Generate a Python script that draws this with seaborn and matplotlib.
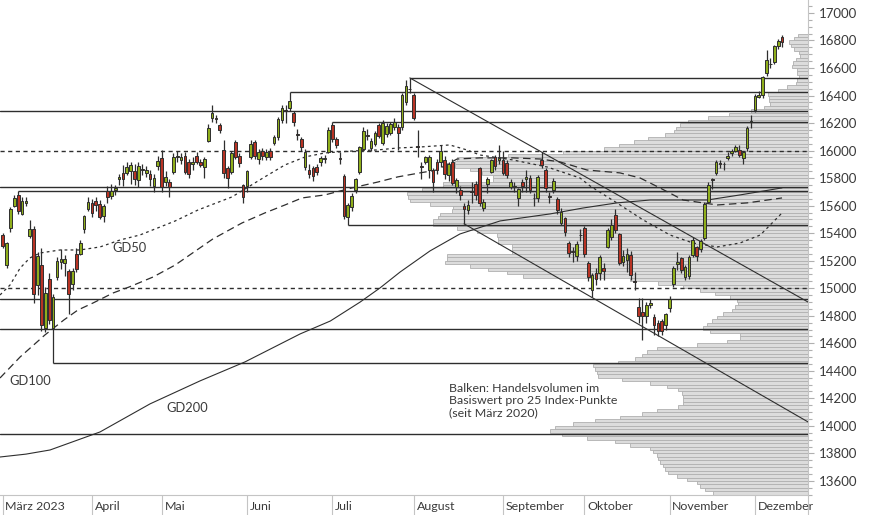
import numpy as np
import pandas as pd
import matplotlib
matplotlib.use("Agg")
import matplotlib.pyplot as plt
import matplotlib.transforms as mtransforms
from matplotlib.lines import Line2D
from matplotlib.ticker import MultipleLocator
import seaborn as sns

sns.set_theme(style="white")
plt.rcParams["font.family"] = ["Lato", "DejaVu Sans"]

# Handelstage 1. März - 12. Dezember 2023 (ohne Karfreitag, Ostermontag, 1. Mai)
tage = pd.bdate_range("2023-03-01", "2023-12-12")
tage = tage[~tage.isin(pd.to_datetime(["2023-04-07", "2023-04-10", "2023-05-01"]))]
monate = ["März 2023", "April", "Mai", "Juni", "Juli", "August",
          "September", "Oktober", "November", "Dezember"]

# Tageskerzen
eroeffnung = [
    # März
    15387, 15170, 15440, 15600, 15680, 15540, 15620, 15380, 15431, 15020, 15170, 14712,
    15067, 14710, 15080, 15190, 15180, 15126, 15030, 15250, 15250, 15430, 15576,
    # April
    15620, 15635, 15615, 15525, 15709, 15670, 15715, 15794, 15838, 15838, 15852, 15852,
    15787, 15860, 15840, 15830, 15743, 15890,
    # Mai
    15947, 15772, 15772, 15845, 15955, 15935, 15960, 15918, 15905, 15961, 15915, 15880,
    16070, 16237, 16240, 16186, 16005, 15874, 15845, 16063, 15961, 15750,
    # Juni
    15743, 15954, 16060, 15937, 15997, 15955, 15995, 16056, 16100, 16225, 16295, 16310,
    16274, 16120, 16085, 15880, 15860, 15870, 15880, 15918, 15940, 15990,
    # Juli
    16186, 16085, 15945, 15816, 15518, 15590, 15714, 15845, 16012, 16115, 16020, 16050,
    16186, 16056, 16120, 16128, 16170, 16172, 16172, 16353, 16450,
    # August
    16404, 16030, 15890, 15920, 15860, 15859, 15918, 15918, 15930, 15823, 15918, 15736,
    15715, 15598, 15569, 15705, 15758, 15874, 15583, 15758, 15845, 15954, 15930,
    # September
    15932, 15910, 15736, 15735, 15656, 15772, 15790, 15800, 15655, 15656, 15935, 15859,
    15670, 15714, 15649, 15474, 15510, 15329, 15270, 15235, 15390,
    # Oktober
    15438, 15184, 14988, 15111, 15111, 15145, 15300, 15373, 15532, 15394, 15190, 15206,
    15242, 15050, 14866, 14825, 14800, 14880, 14790, 14750, 14760, 14735,
    # November
    14855, 15030, 15177, 15220, 15084, 15090, 15242, 15300, 15283, 15365, 15630, 15792,
    15835, 15910, 15905, 15947, 15980, 16000, 16005, 15944, 16017, 16205,
    # Dezember
    16295, 16392, 16404, 16567, 16630, 16646, 16762, 16823,
]
hoch = [
    15400, 15335, 15590, 15680, 15706, 15660, 15660, 15496, 15450, 15260, 15290, 15010,
    15110, 14960, 15230, 15283, 15240, 15140, 15150, 15290, 15350, 15530, 15660,
    15650, 15660, 15640, 15610, 15740, 15760, 15750, 15830, 15896, 15915, 15920, 15900,
    15920, 15905, 15890, 15860, 15830, 15960,
    16005, 15850, 15790, 15980, 15995, 15980, 15990, 15940, 15950, 15990, 15940, 15950,
    16190, 16332, 16260, 16200, 16077, 15890, 16000, 16080, 15980, 15760,
    15860, 16075, 16080, 16010, 16020, 16010, 16020, 16110, 16245, 16330, 16330, 16427,
    16290, 16160, 16100, 16010, 15900, 15890, 15900, 15960, 15970, 16170,
    16208, 16100, 15990, 15830, 15620, 15690, 15800, 16030, 16170, 16160, 16090, 16140,
    16200, 16220, 16200, 16210, 16240, 16190, 16420, 16510, 16528,
    16420, 16150, 15918, 15960, 15970, 15870, 15940, 16040, 15960, 15920, 15940, 15800,
    15740, 15620, 15640, 15775, 15780, 15880, 15650, 15810, 15940, 15970, 16041,
    16000, 15930, 15790, 15770, 15730, 15790, 15860, 15820, 15690, 15820, 15993, 15870,
    15700, 15800, 15660, 15580, 15520, 15340, 15300, 15340, 15430,
    15450, 15200, 15110, 15150, 15240, 15180, 15440, 15500, 15575, 15400, 15280, 15290,
    15270, 15120, 14930, 14930, 14900, 14920, 14810, 14770, 14775, 14820,
    14944, 15160, 15266, 15230, 15170, 15240, 15370, 15310, 15360, 15625, 15770, 15800,
    15935, 15930, 15920, 15990, 16010, 16040, 16040, 16000, 16180, 16260,
    16410, 16430, 16545, 16731, 16670, 16770, 16810, 16840,
]
tief = [
    15290, 15150, 15410, 15590, 15540, 15530, 15600, 15365, 14893, 14950, 14690, 14680,
    14740, 14458, 15060, 15140, 15090, 14810, 14990, 15120, 15240, 15400, 15560,
    15520, 15560, 15500, 15480, 15620, 15650, 15680, 15750, 15740, 15820, 15760, 15750,
    15736, 15820, 15810, 15740, 15700, 15860,
    15700, 15740, 15663, 15830, 15920, 15900, 15830, 15800, 15860, 15900, 15880, 15800,
    16060, 16210, 16200, 16130, 15800, 15729, 15830, 15940, 15880, 15620,
    15700, 15940, 15940, 15900, 15930, 15930, 15930, 16040, 16080, 16200, 16200, 16290,
    16180, 16080, 16000, 15860, 15800, 15780, 15820, 15890, 15910, 15980,
    16060, 16020, 15900, 15500, 15456, 15560, 15690, 15830, 16000, 16080, 16000, 16030,
    16090, 16040, 16100, 16110, 16150, 16005, 16150, 16330, 16420,
    16220, 15955, 15790, 15900, 15800, 15700, 15830, 15880, 15790, 15780, 15750, 15690,
    15640, 15468, 15540, 15620, 15640, 15600, 15560, 15690, 15840, 15860, 15900,
    15820, 15800, 15720, 15700, 15600, 15700, 15700, 15690, 15600, 15630, 15870, 15700,
    15620, 15690, 15540, 15460, 15380, 15230, 15190, 15200, 15340,
    15230, 15050, 14940, 15020, 15060, 15060, 15290, 15350, 15400, 15170, 15160, 15120,
    15060, 14990, 14748, 14624, 14750, 14860, 14660, 14650, 14660, 14700,
    14830, 15010, 15133, 15110, 15060, 15070, 15230, 15200, 15260, 15350, 15620, 15720,
    15820, 15870, 15860, 15930, 15960, 15990, 15950, 15900, 16000, 16165,
    16280, 16380, 16380, 16540, 16600, 16630, 16740, 16755,
]
schluss = [
    15305, 15327, 15578, 15654, 15559, 15631, 15633, 15428, 14960, 15232, 14735, 14967,
    14768, 14933, 15195, 15216, 15210, 14957, 15128, 15142, 15328, 15523, 15629,
    15545, 15605, 15520, 15595, 15661, 15704, 15729, 15808, 15794, 15881, 15896, 15795,
    15889, 15863, 15862, 15796, 15801, 15922,
    15736, 15808, 15736, 15954, 15961, 15950, 15845, 15830, 15914, 15917, 15898, 15940,
    16164, 16275, 16228, 16150, 15838, 15801, 15983, 15954, 15910, 15663,
    15852, 16048, 15964, 15992, 15961, 15989, 15950, 16098, 16230, 16311, 16290, 16358,
    16208, 16111, 16023, 15988, 15830, 15813, 15846, 15949, 15946, 16148,
    16081, 16040, 15938, 15528, 15603, 15673, 15790, 16023, 16141, 16105, 16068, 16125,
    16108, 16204, 16177, 16191, 16211, 16131, 16406, 16470, 16447,
    16240, 16024, 15884, 15954, 15954, 15772, 15859, 15997, 15832, 15904, 15767, 15789,
    15676, 15574, 15603, 15700, 15678, 15620, 15627, 15794, 15932, 15888, 15947,
    15840, 15825, 15772, 15741, 15719, 15740, 15805, 15714, 15654, 15805, 15893, 15728,
    15664, 15781, 15571, 15557, 15405, 15255, 15264, 15323, 15386,
    15247, 15085, 15099, 15070, 15229, 15128, 15423, 15460, 15425, 15187, 15237, 15251,
    15095, 15045, 14798, 14800, 14879, 14892, 14731, 14687, 14690, 14810,
    14923, 15144, 15189, 15136, 15153, 15229, 15353, 15234, 15345, 15615, 15748, 15786,
    15919, 15901, 15900, 15958, 15995, 16029, 15967, 15992, 16166, 16215,
    16397, 16405, 16533, 16656, 16628, 16759, 16794, 16791,
]

# Gleitende Durchschnitte (Handelstag, Wert)
gd50_tag = [0.3, 2.9, 5.5, 8.0, 10.6, 15.8, 20.9, 26.1, 31.3, 36.4, 41.6, 45.5, 51.4,
            60.1, 68.6, 73.8, 79.0, 84.1, 91.1, 97.8, 102.9, 108.6, 116.3, 120.7,
            124.1, 132.6, 141.4, 149.9, 152.5, 159.4, 166.2, 173.1, 179.0, 185.3,
            191.2, 196.4, 202.0]
gd50_wert = [14951, 15024, 15147, 15220, 15256, 15278, 15278, 15300, 15351, 15387, 15445,
             15489, 15569, 15663, 15809, 15896, 15954, 15983, 15997, 16005, 16019, 16026,
             16041, 16005, 15968, 15932, 15881, 15801, 15743, 15620, 15496, 15387, 15329,
             15300, 15329, 15387, 15547]
gd100_tag = [0.3, 5.5, 11.9, 16.8, 20.4, 24.3, 29.5, 33.6, 39.8, 45.5, 55.2, 62.7, 68.6,
             73.8, 78.2, 84.1, 91.1, 97.8, 102.9, 108.6, 113.0, 118.2, 124.1, 132.6,
             139.6, 144.7, 151.7, 160.2, 165.4, 170.5, 176.5, 185.3, 193.0, 202.0]
gd100_wert = [14348, 14501, 14661, 14770, 14842, 14893, 14966, 15009, 15082, 15169, 15358,
              15474, 15547, 15605, 15656, 15678, 15729, 15772, 15809, 15838, 15859, 15939,
              15947, 15947, 15939, 15918, 15859, 15838, 15801, 15729, 15641, 15605, 15620,
              15656]
gd200_tag = [0.3, 7.0, 13.2, 26.1, 39.0, 51.9, 63.5, 77.7, 85.5, 93.2, 98.3, 103.5, 111.2,
             118.9, 129.3, 142.2, 150.7, 159.4, 168.0, 182.7, 191.2, 202.0]
gd200_wert = [13774, 13795, 13825, 13956, 14160, 14327, 14465, 14668, 14762, 14900, 15002,
              15118, 15271, 15394, 15489, 15540, 15583, 15620, 15641, 15641, 15678, 15729]

# Volumenprofil: Balken je 25 Punkte ab 13500
volumen = [95, 103, 108, 111, 121, 131, 140, 143, 145, 148, 150, 151, 155, 158, 178, 193,
           221, 246, 258, 253, 235, 213, 188, 166, 151, 130, 125, 125, 125, 126, 130, 141,
           158, 186, 210, 211, 213, 215, 190, 173, 166, 161, 151, 111, 81, 68, 68, 98,
           105, 101, 96, 91, 85, 76, 73, 70, 71, 78, 93, 108, 125, 150, 178, 285, 301,
           320, 338, 363, 361, 361, 296, 296, 296, 310, 310, 311, 331, 351, 375, 375, 370,
           368, 356, 355, 378, 398, 400, 401, 386, 365, 365, 315, 315, 326, 338, 353, 353,
           351, 300, 245, 204, 189, 174, 160, 143, 134, 132, 128, 120, 100, 79, 57, 44, 38,
           39, 39, 40, 30, 21, 12, 11, 9, 11, 11, 16, 15, 12, 8, 9, 14, 17, 19, 14, 10]
volumen_start = 13500
volumen_schritt = 25

# Horizontale Marken
linien_voll = [16288, 15734, 14920, 14702, 13941]
linien_gestrichelt = [16000, 15000]
linien_ab_tag = [106, 75, 86, 5, 90, 14]
linien_ab_wert = [16528, 16427, 16208, 15706, 15456, 14458]

# Trendkanal
trend_oben_tag, trend_oben_wert = [106, 208.7], [16528, 14900]
trend_unten_tag, trend_unten_wert = [120, 208.7], [15468, 14029]

df = pd.DataFrame({"tag": np.arange(1, len(tage) + 1), "datum": tage,
                   "open": eroeffnung, "high": hoch, "low": tief, "close": schluss})

GRUEN = "#8fae1b"
ROT = "#b83324"
DUNKEL = "#2e2e2e"
TEXT = "#3a3a3a"
HELL = "#c4c4c4"

fig = plt.figure(figsize=(8.74, 5.15), dpi=100)
ax = fig.add_axes([0, 20 / 515, 808 / 874, 495 / 515])
ax2 = ax.twiny()
ax.set_zorder(2)
ax2.set_zorder(1)
ax.patch.set_visible(False)

x_min, x_max = 0.30, 208.7
ax.set_xlim(x_min, x_max)
ax.set_ylim(13498, 17094)

# Volumenbalken von rechts
k = np.arange(len(volumen))
ax2.barh(volumen_start + volumen_schritt * k + volumen_schritt / 2, volumen,
         height=volumen_schritt, left=0, color="#dcdcdc", edgecolor="#b0b0b0",
         linewidth=0.6)
ax2.set_xlim(808, 0)
ax2.set_xticks([])
for s in ax2.spines.values():
    s.set_visible(False)

# Linien
for w in linien_voll:
    ax.axhline(w, color=DUNKEL, lw=1.0, zorder=3)
for w in linien_gestrichelt:
    ax.axhline(w, color=DUNKEL, lw=1.0, ls=(0, (3, 2.5)), zorder=3)
ax.hlines(linien_ab_wert, linien_ab_tag, x_max, color=DUNKEL, lw=1.0, zorder=3)
ax.plot(trend_oben_tag, trend_oben_wert, color=DUNKEL, lw=0.8, zorder=3)
ax.plot(trend_unten_tag, trend_unten_wert, color=DUNKEL, lw=0.8, zorder=3)

# Gleitende Durchschnitte
sns.lineplot(x=gd200_tag, y=gd200_wert, ax=ax, color=DUNKEL, lw=0.8, zorder=3)
sns.lineplot(x=gd100_tag, y=gd100_wert, ax=ax, color=DUNKEL, lw=0.9, zorder=3)
ax.lines[-1].set_linestyle((0, (6, 3.5)))
sns.lineplot(x=gd50_tag, y=gd50_wert, ax=ax, color=DUNKEL, lw=0.9, zorder=3)
ax.lines[-1].set_linestyle((0, (2.2, 2.6)))

# Kerzen
steigend = df["close"] >= df["open"]
farben = np.where(steigend, GRUEN, ROT)
ax.vlines(df["tag"], df["low"], df["high"], color=DUNKEL, lw=0.9, zorder=4)
koerper = (df["close"] - df["open"]).abs().clip(lower=3)
ax.bar(df["tag"], koerper, bottom=df[["open", "close"]].min(axis=1), width=0.7,
       color=farben, edgecolor=DUNKEL, linewidth=0.7, zorder=5)

# Beschriftungen
ax.text(29.4, 15293, "GD50", fontsize=9.3, color=TEXT, va="center", ha="left", zorder=6)
ax.text(2.6, 14326, "GD100", fontsize=9.3, color=TEXT, va="center", ha="left", zorder=6)
ax.text(43.1, 14130, "GD200", fontsize=9.3, color=TEXT, va="center", ha="left", zorder=6)
ax.text(116.2, 14315, "Balken: Handelsvolumen im\nBasiswert pro 25 Index-Punkte\n(seit März 2020)",
        fontsize=8.9, color=TEXT, va="top", ha="left", linespacing=1.15, zorder=6)

# y-Achse rechts
ax.yaxis.tick_right()
ax.set_yticks(range(13600, 17001, 200))
ax.yaxis.set_minor_locator(MultipleLocator(50))
ax.tick_params(axis="y", which="major", length=4, width=0.8, color="#b0b0b0",
               labelsize=9.5, labelcolor=TEXT, pad=4, right=True)
ax.tick_params(axis="y", which="minor", length=3, width=0.8, color="#b0b0b0", right=True)
ax.set_xticks([])
for name, s in ax.spines.items():
    s.set_visible(name in ("right", "bottom"))
    s.set_color(HELL)
    s.set_linewidth(0.8)

# Monate unten
trans = mtransforms.blended_transform_factory(ax.transData, ax.transAxes)
erste = df.groupby(df["datum"].dt.month)["tag"].min().values
for pos, name in zip(erste, monate):
    ax.add_line(Line2D([pos, pos], [0, -0.045], transform=trans, color=HELL,
                       lw=0.8, clip_on=False))
    ax.annotate(name, xy=(pos, 0), xycoords=trans, xytext=(2, -8.6),
                textcoords="offset points", fontsize=8.9, color=TEXT,
                ha="left", va="center", annotation_clip=False)
fig.add_artist(Line2D([808 / 874, 808 / 874], [0, 20 / 515], color=HELL, lw=0.8))

fig.savefig("out.png", dpi=100)
